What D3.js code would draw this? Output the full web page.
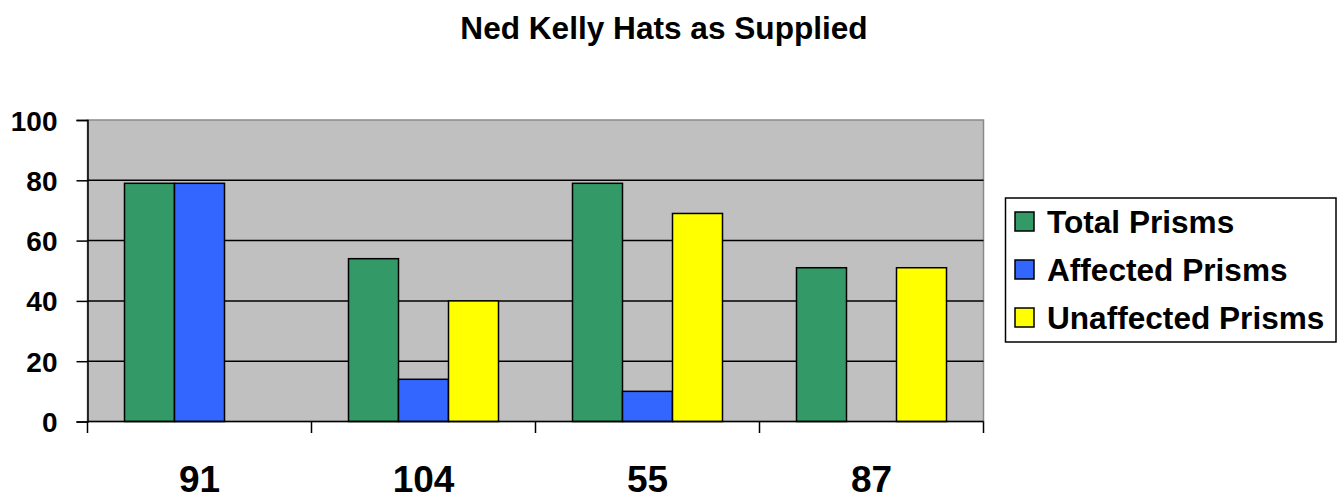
<!DOCTYPE html>
<html>
<head>
<meta charset="utf-8">
<script src="https://cdn.jsdelivr.net/npm/d3@7"></script>
<style>
  html, body { margin: 0; padding: 0; background: #ffffff; }
  svg { display: block; }
  text { font-family: "Liberation Sans", Arial, sans-serif; font-weight: bold; fill: #000; }
</style>
</head>
<body>
<svg id="chart" width="1344" height="500"></svg>
<script>
// Hat batches (category labels along the x axis)
const categories = ["91", "104", "55", "87"];
const seriesNames = ["Total Prisms", "Affected Prisms", "Unaffected Prisms"];
const totalPrisms = [79, 54, 79, 51];
const affectedPrisms = [79, 14, 10, 0];
const unaffectedPrisms = [0, 40, 69, 51];
const yTicks = [0, 20, 40, 60, 80, 100];
const seriesColors = ["#339966", "#3366FF", "#FFFF00"];

const seriesValues = [totalPrisms, affectedPrisms, unaffectedPrisms];

const svg = d3.select("#chart");
const plot = { left: 87.5, right: 983.5, top: 120, bottom: 421.5 };

// Title
svg.append("text")
  .attr("x", 664).attr("y", 39)
  .attr("text-anchor", "middle")
  .style("font-size", "31.6px")
  .text("Ned Kelly Hats as Supplied");

const x0 = d3.scaleBand().domain(categories).range([plot.left, plot.right]).padding(0);
const x1 = d3.scaleBand().domain(seriesNames).range([0, x0.bandwidth()])
  .paddingInner(0).paddingOuter(0.74);
const y = d3.scaleLinear().domain([0, 100]).range([plot.bottom, plot.top]);

// Plot background
svg.append("rect")
  .attr("x", plot.left).attr("y", plot.top)
  .attr("width", plot.right - plot.left).attr("height", plot.bottom - plot.top)
  .attr("fill", "#C0C0C0")
  .attr("stroke", "#8a8a8a").attr("stroke-width", 1.5);

// Horizontal gridlines
svg.append("g")
  .selectAll("line")
  .data(yTicks.filter(t => t > 0 && t < 100))
  .join("line")
  .attr("x1", plot.left).attr("x2", plot.right)
  .attr("y1", d => y(d)).attr("y2", d => y(d))
  .attr("stroke", "#000").attr("stroke-width", 1.5);

// Bars
const rows = categories.map((c, i) => ({
  cat: c,
  vals: seriesNames.map((s, j) => ({ s, j, v: seriesValues[j][i] }))
}));

svg.append("g")
  .selectAll("g")
  .data(rows)
  .join("g")
  .attr("transform", d => `translate(${x0(d.cat)},0)`)
  .selectAll("rect")
  .data(d => d.vals.filter(b => b.v > 0))
  .join("rect")
  .attr("x", d => x1(d.s))
  .attr("y", d => y(d.v))
  .attr("width", x1.bandwidth())
  .attr("height", d => y(0) - y(d.v))
  .attr("fill", d => seriesColors[d.j])
  .attr("stroke", "#000").attr("stroke-width", 1.5);

// Y axis
const yAxis = svg.append("g")
  .attr("transform", `translate(${plot.left},0)`)
  .call(d3.axisLeft(y).tickValues(yTicks).tickSize(11).tickPadding(19).tickFormat(d3.format("d")));
yAxis.select(".domain").attr("stroke", "#000").attr("stroke-width", 1.5);
yAxis.selectAll(".tick line").attr("stroke", "#000").attr("stroke-width", 1.5);
yAxis.selectAll(".tick text")
  .attr("dy", "0.36em")
  .style("font-size", "28px")
  .style("font-family", "'Liberation Sans', Arial, sans-serif")
  .style("font-weight", "bold")
  .attr("fill", "#000");

// X axis: ticks sit on category boundaries
const boundaries = categories.map(c => x0(c)).concat([plot.right]);
svg.append("line")
  .attr("x1", plot.left).attr("x2", plot.right)
  .attr("y1", plot.bottom).attr("y2", plot.bottom)
  .attr("stroke", "#000").attr("stroke-width", 1.5);
svg.append("g")
  .selectAll("line")
  .data(boundaries)
  .join("line")
  .attr("x1", d => d).attr("x2", d => d)
  .attr("y1", plot.bottom).attr("y2", plot.bottom + 11.5)
  .attr("stroke", "#000").attr("stroke-width", 1.5);
svg.append("g")
  .selectAll("text")
  .data(categories)
  .join("text")
  .attr("x", d => x0(d) + x0.bandwidth() / 2)
  .attr("y", 492)
  .attr("text-anchor", "middle")
  .style("font-size", "37px")
  .text(d => d);

// Legend
const legend = svg.append("g");
legend.append("rect")
  .attr("x", 1005.5).attr("y", 198)
  .attr("width", 330.5).attr("height", 144)
  .attr("fill", "#fff").attr("stroke", "#000").attr("stroke-width", 1.5);
const items = legend.selectAll("g.item")
  .data(seriesNames)
  .join("g")
  .attr("class", "item")
  .attr("transform", (d, i) => `translate(1015, ${222 + i * 48})`);
items.append("rect")
  .attr("x", 0).attr("y", -10)
  .attr("width", 19).attr("height", 19)
  .attr("fill", (d, i) => seriesColors[i])
  .attr("stroke", "#000").attr("stroke-width", 1.5);
items.append("text")
  .attr("x", 32).attr("y", 11)
  .style("font-size", "31.6px")
  .text(d => d);
</script>
</body>
</html>
